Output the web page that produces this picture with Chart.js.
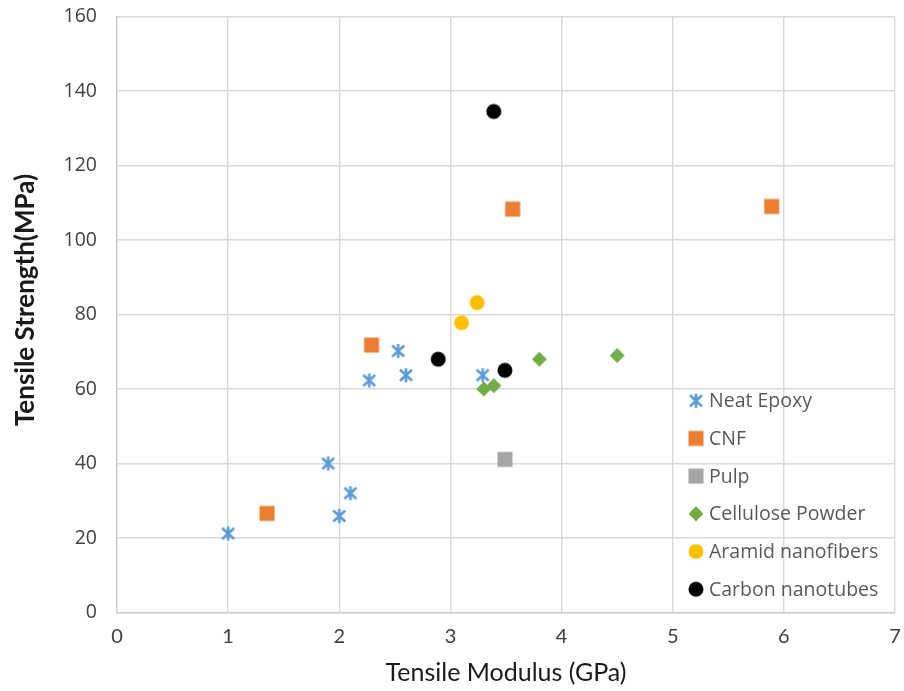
<!DOCTYPE html>
<html>
<head>
<meta charset="utf-8">
<script src="https://cdn.jsdelivr.net/npm/chart.js@4/dist/chart.umd.min.js"></script>
<style>
  body { margin: 0; background: #fff; }
  .wrap { width: 904px; height: 691px; }
</style>
</head>
<body>
<div class="wrap"><canvas class="my-chart"></canvas></div>
<script>
// tensile modulus (GPa) / tensile strength (MPa) per filler type
const seriesNames = ["Neat Epoxy", "CNF", "Pulp", "Cellulose Powder", "Aramid nanofibers", "Carbon nanotubes"];

const neatX = [1.0, 1.9, 2.0, 2.1, 2.27, 2.53, 2.6, 3.29];
const neatY = [21.2, 40.0, 25.9, 32.0, 62.3, 70.2, 63.7, 63.7];
const cnfX = [1.35, 2.29, 3.56, 5.89];
const cnfY = [26.6, 71.8, 108.3, 109.0];
const pulpX = [3.49];
const pulpY = [41.1];
const celluloseX = [3.3, 3.39, 3.8, 4.5];
const celluloseY = [60.0, 60.9, 68.0, 69.0];
const aramidX = [3.1, 3.24];
const aramidY = [77.8, 83.2];
const carbonX = [2.89, 3.49, 3.39];
const carbonY = [68.0, 65.0, 134.5];

const xTicks = [0, 1, 2, 3, 4, 5, 6, 7];
const yTicks = [0, 20, 40, 60, 80, 100, 120, 140, 160];

const colors = ["#5B9BD5", "#ED7D31", "#A5A5A5", "#70AD47", "#FFC000", "#000000"];
const shapes = ["asterisk", "square", "square", "diamond", "circle", "circle"];

const makeMarker = (kind, color) => {
    const c = document.createElement("canvas");
    c.width = 18;
    c.height = 18;
    const g = c.getContext("2d");
    const m = 9;
    g.fillStyle = color;
    g.strokeStyle = color;
    if (kind === "asterisk") {
        g.lineWidth = 2.6;
        g.beginPath();
        g.moveTo(m - 6, m - 5.5); g.lineTo(m + 6, m + 5.5);
        g.moveTo(m + 6, m - 5.5); g.lineTo(m - 6, m + 5.5);
        g.moveTo(m, m - 7); g.lineTo(m, m + 7);
        g.stroke();
    } else if (kind === "square") {
        g.fillRect(m - 7.5, m - 7.5, 15, 15);
    } else if (kind === "diamond") {
        g.beginPath();
        g.moveTo(m, m - 7.5); g.lineTo(m + 7.5, m); g.lineTo(m, m + 7.5); g.lineTo(m - 7.5, m);
        g.closePath();
        g.fill();
    } else {
        g.beginPath();
        g.arc(m, m, 7.5, 0, Math.PI * 2);
        g.fill();
    }
    return c;
};

const toPoints = (xs, ys) => xs.map((x, i) => ({ x: x, y: ys[i] }));
const allX = [neatX, cnfX, pulpX, celluloseX, aramidX, carbonX];
const allY = [neatY, cnfY, pulpY, celluloseY, aramidY, carbonY];
const markers = shapes.map((s, i) => makeMarker(s, colors[i]));

const datasets = seriesNames.map((name, i) => ({
    label: name,
    data: toPoints(allX[i], allY[i]),
    pointStyle: markers[i],
    backgroundColor: colors[i],
    borderColor: colors[i],
    pointRadius: 8,
}));

// legend and axis titles drawn by hand
const extras = {
    id: "extras",
    afterDraw(chart) {
        const ctx = chart.ctx;
        const area = chart.chartArea;
        ctx.save();
        ctx.textBaseline = "middle";
        ctx.font = "19.5px 'Open Sans'";
        ctx.fillStyle = "#595959";
        seriesNames.forEach((name, i) => {
            const y = 400.7 + i * 37.7;
            ctx.drawImage(markers[i], 696 - 9, y - 9);
            ctx.fillText(name, 709, y + 1);
        });

        ctx.fillStyle = "#1a1a1a";
        ctx.textAlign = "center";
        ctx.font = "25px Lato";
        ctx.fillText("Tensile Modulus (GPa)", (area.left + area.right) / 2, 673);

        ctx.translate(25.5, 300);
        ctx.rotate(-Math.PI / 2);
        ctx.font = "bold 26px Lato";
        ctx.fillText("Tensile Strength(MPa)", 0, 0);
        ctx.restore();
    },
};

const myChart = document.querySelector(".my-chart");
new Chart(myChart, {
    type: "scatter",
    data: { datasets: datasets },
    options: {
        responsive: true,
        maintainAspectRatio: false,
        animation: false,
        layout: { padding: { left: 0, right: 7, top: 16.5, bottom: 0 } },
        plugins: {
            legend: { display: false },
            tooltip: { enabled: false },
        },
        scales: {
            x: {
                type: "linear",
                min: 0,
                max: 7,
                afterBuildTicks: (axis) => { axis.ticks = xTicks.map((v) => ({ value: v })); },
                afterFit: (axis) => {
                    axis.height = 78.5;
                    axis.paddingLeft = 0;
                    axis.paddingRight = 0;
                },
                ticks: {
                    font: { family: "Lato", size: 20 },
                    color: "#404040",
                    padding: 12,
                },
                grid: { color: "#d9d9d9", lineWidth: 1.4, drawTicks: false },
                border: { color: "#cfcfcf", width: 1.4 },
            },
            y: {
                min: 0,
                max: 160,
                afterBuildTicks: (axis) => { axis.ticks = yTicks.map((v) => ({ value: v })); },
                afterFit: (axis) => {
                    axis.width = 117;
                    axis.paddingTop = 0;
                    axis.paddingBottom = 0;
                },
                ticks: {
                    font: { family: "Open Sans", size: 19.5 },
                    color: "#404040",
                    padding: 20,
                },
                grid: { color: "#d9d9d9", lineWidth: 1.4, drawTicks: false },
                border: { color: "#cfcfcf", width: 1.4 },
            },
        },
    },
    plugins: [extras],
});
</script>
</body>
</html>
